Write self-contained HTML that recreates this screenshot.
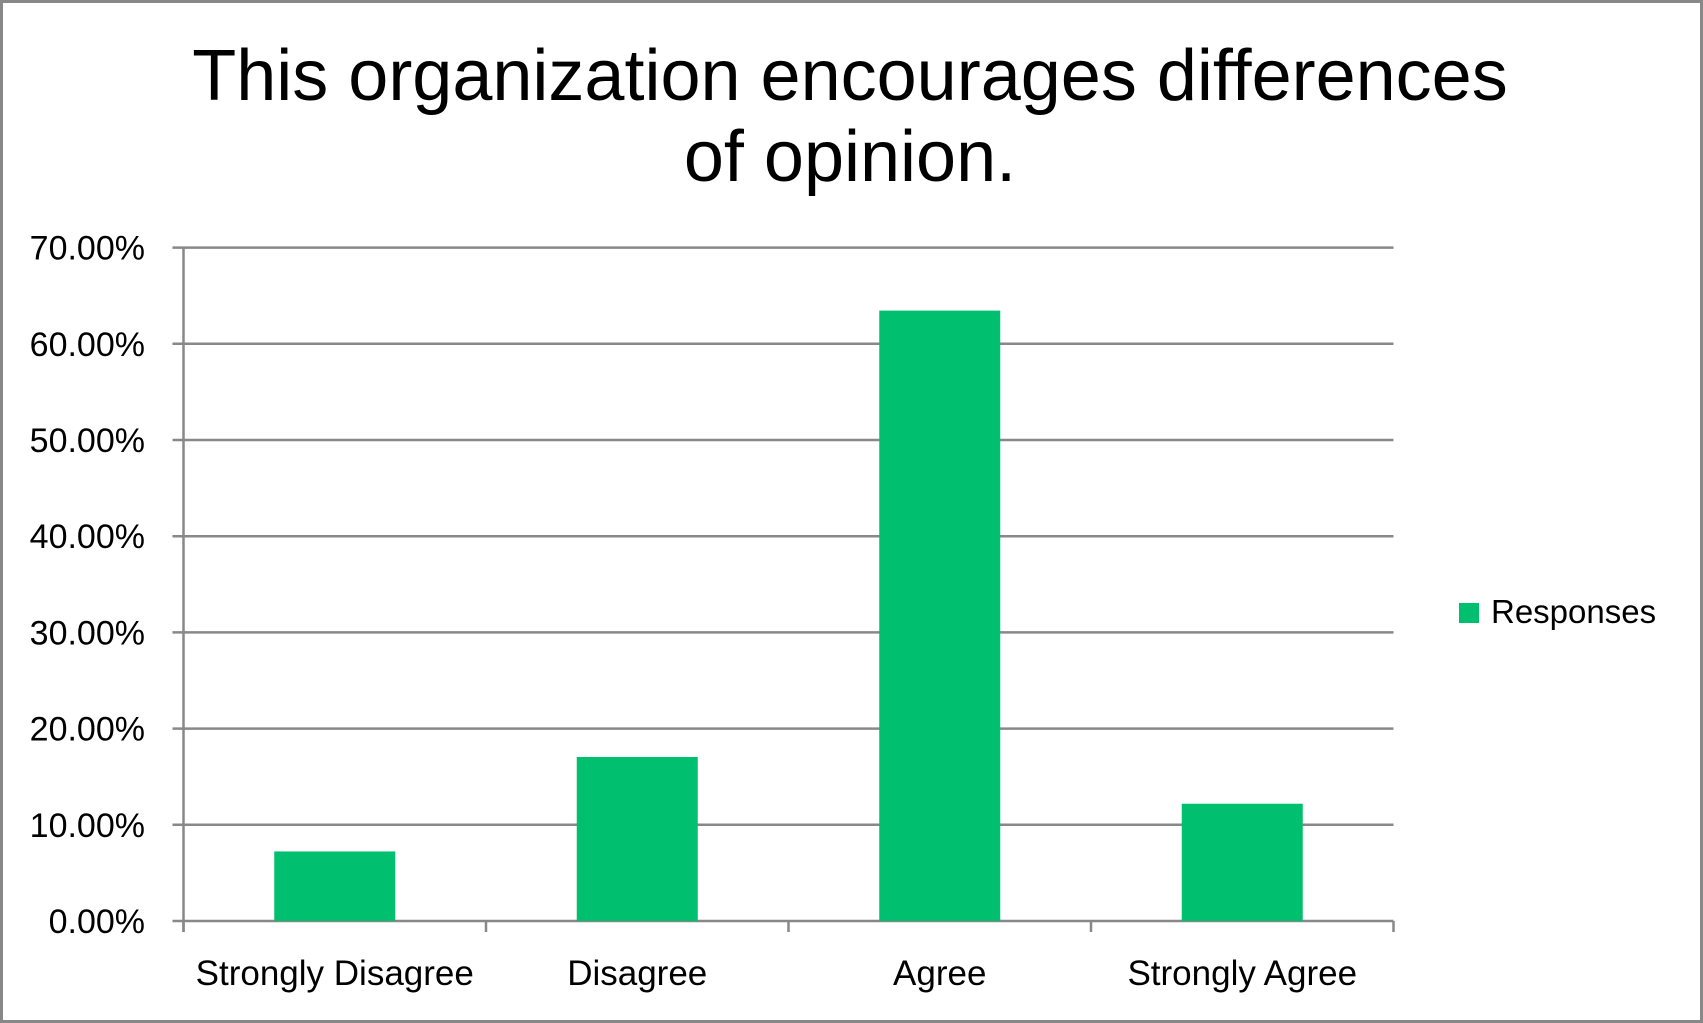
<!DOCTYPE html>
<html><head><meta charset="utf-8"><style>
html,body{margin:0;padding:0;background:#fff;}
svg{display:block;}
</style></head><body>
<svg width="1703" height="1023" viewBox="0 0 1703 1023" xmlns="http://www.w3.org/2000/svg">
<rect x="1.5" y="1.5" width="1700" height="1020" fill="#fff" stroke="#888" stroke-width="3"/>
<text x="850" y="100" text-anchor="middle" font-family="Liberation Sans, sans-serif" font-size="72" fill="#000">This organization encourages differences</text>
<text x="850" y="181" text-anchor="middle" font-family="Liberation Sans, sans-serif" font-size="72" fill="#000">of opinion.</text>
<g id="plot"></g>
<rect x="1459" y="603" width="20" height="20" fill="#00BF6F"/>
<text x="1491" y="623" font-family="Liberation Sans, sans-serif" font-size="33" fill="#000">Responses</text>
</svg>
<script>
const categories = ["Strongly Disagree","Disagree","Agree","Strongly Agree"];
const values = [7.23,17.05,63.45,12.19];
const ticks = [0,10,20,30,40,50,60,70];
const tickLabels = ["0.00%","10.00%","20.00%","30.00%","40.00%","50.00%","60.00%","70.00%"];

const NS="http://www.w3.org/2000/svg";
const g=document.getElementById('plot');
const L=183.5,R=1393.5,Y0=921,Y70=247.6;
const y=v=>Y0-(v/70)*(Y0-Y70);
const band=(R-L)/categories.length;
const x=i=>L+i*band;
function mk(t,a){const e=document.createElementNS(NS,t);for(const k in a)e.setAttribute(k,a[k]);g.appendChild(e);return e;}
ticks.forEach((t,i)=>{
  const yy=y(t);
  const ln=mk('line',{x1:L-11,x2:R,y1:yy,y2:yy,stroke:'#888','stroke-width':2.5});
  
  
  const tx=mk('text',{x:145,y:yy+12,'text-anchor':'end','font-family':'Liberation Sans, sans-serif','font-size':34,fill:'#000'});
  tx.textContent=tickLabels[i];
  
  
});
const ax=mk('line',{x1:L,x2:L,y1:Y70,y2:Y0+11,stroke:'#888','stroke-width':2.5});


for(let i=0;i<=categories.length;i++){
  const tk=mk('line',{x1:x(i),x2:x(i),y1:Y0,y2:Y0+11,stroke:'#888','stroke-width':2.5});
  
  
}
const bw=band*0.4, off=band*0.3;
categories.forEach((c,i)=>{
  const b=mk('rect',{x:x(i)+off,y:y(values[i]),width:bw,height:Y0-y(values[i]),fill:'#00BF6F'});
  
  
  const t=mk('text',{x:x(i)+band/2,y:985,'text-anchor':'middle','font-family':'Liberation Sans, sans-serif','font-size':35,fill:'#000'});
  t.textContent=c;
  
  
});
</script>
</body></html>
